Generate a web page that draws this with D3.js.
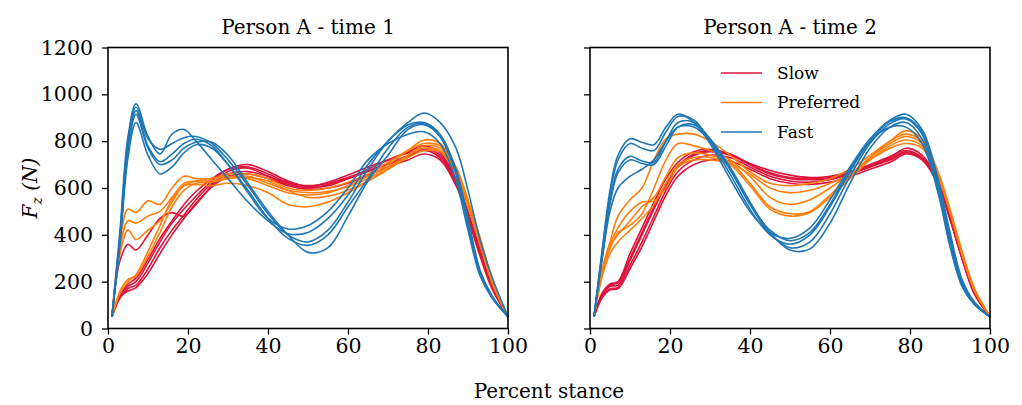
<!DOCTYPE html>
<html>
<head>
<meta charset="utf-8">
<script src="https://d3js.org/d3.v7.min.js"></script>
<style>
  body { margin: 0; background: #fff; }
</style>
</head>
<body>
<script>
// percent stance where each trial was sampled
const stance = [1, 3, 5, 7, 10, 13, 16, 19, 22, 26, 30, 35, 40, 45, 50, 55, 60, 65, 70, 75, 79, 83, 87, 90, 93, 96, 100];
const xTicks = [0, 20, 40, 60, 80, 100];
const yTicks = [0, 200, 400, 600, 800, 1000, 1200];
const speeds = ["Slow", "Preferred", "Fast"];
const speedColors = ["#dc143c", "#ff7f0e", "#1f77b4"];
const panelTitles = ["Person A - time 1", "Person A - time 2"];

// Fz (N), person A, time 1
const time1Slow = [
  [50,290,360,335,400,470,495,480,530,610,670,685,650,615,605,625,655,690,720,750,765,730,620,490,330,180,50],
  [50,140,180,200,280,370,450,510,565,630,680,700,670,630,605,610,640,680,720,755,780,750,640,500,340,190,50],
  [50,130,170,185,255,345,420,485,550,620,660,670,650,620,600,615,640,670,700,735,760,730,620,480,320,180,50],
  [50,135,160,175,235,320,400,470,535,605,650,660,640,610,595,600,620,655,690,720,745,720,610,470,310,170,50],
  [50,145,190,215,295,385,460,530,585,640,680,690,660,625,610,620,645,675,705,740,770,740,630,490,330,185,50]
];
const time1Preferred = [
  [50,370,510,495,545,530,600,650,640,640,650,640,610,580,570,580,610,650,700,760,805,790,690,550,390,215,50],
  [50,340,460,450,480,500,560,620,630,630,645,650,620,590,580,585,605,640,690,740,780,770,670,530,370,200,50],
  [50,320,420,380,420,460,540,610,615,610,620,610,580,530,520,540,580,630,680,740,770,760,660,520,360,195,50],
  [50,150,200,230,330,440,550,610,630,640,660,660,640,600,590,600,625,660,710,760,790,780,680,540,380,210,50],
  [50,160,210,225,310,410,520,590,620,625,640,645,630,590,560,565,590,630,680,730,760,755,660,520,360,200,50]
];
const time1Fast = [
  [50,420,820,960,820,745,830,850,800,720,640,540,460,405,410,470,570,700,800,870,880,830,680,470,250,140,50],
  [50,400,800,945,810,765,790,815,820,790,720,610,490,400,370,420,540,680,800,880,920,880,770,590,380,220,50],
  [50,390,780,930,780,712,745,790,808,780,700,590,470,385,355,400,520,640,770,860,875,820,660,440,240,135,50],
  [50,370,760,915,770,700,720,770,795,795,740,620,500,400,325,345,480,630,740,850,870,820,670,450,240,135,50],
  [50,360,730,880,740,660,690,750,785,770,700,580,470,425,440,500,600,720,790,830,840,790,630,420,225,130,50]
];

// Fz (N), person A, time 2
const time2Slow = [
  [50,150,190,200,320,430,540,640,710,755,765,745,705,675,655,645,650,670,700,735,760,730,620,470,300,155,50],
  [50,140,180,185,290,400,510,610,690,740,755,740,700,665,645,640,645,665,695,730,770,740,630,480,310,160,50],
  [50,135,170,175,270,370,480,590,670,720,740,730,690,650,630,625,635,660,690,720,750,725,620,470,300,155,50],
  [50,130,165,170,255,350,460,570,650,700,720,715,680,640,620,615,625,650,680,710,745,720,615,465,300,150,50],
  [50,145,185,195,300,410,520,620,695,745,760,745,700,660,640,635,640,660,690,725,755,730,625,475,305,160,50]
];
const time2Preferred = [
  [50,250,370,480,550,600,720,810,830,830,800,740,670,620,610,620,640,680,740,800,830,800,660,500,320,170,50],
  [50,230,340,410,440,490,600,720,790,780,760,720,650,560,530,550,600,660,730,790,820,790,660,500,320,170,50],
  [50,240,350,400,460,520,560,650,730,750,740,710,620,520,490,500,570,650,730,800,845,810,670,510,330,175,50],
  [50,220,320,370,420,470,530,620,700,730,730,700,610,510,480,495,560,640,720,780,805,780,650,495,315,165,50],
  [50,235,360,430,500,540,545,600,690,720,720,705,660,600,580,590,620,660,720,770,790,770,650,500,320,170,50]
];
const time2Fast = [
  [50,330,590,740,810,795,785,860,915,880,790,640,500,410,385,430,550,690,810,890,915,850,640,410,210,115,50],
  [50,320,570,720,790,770,760,840,905,890,800,660,510,400,360,400,520,670,800,885,900,840,620,390,200,110,50],
  [50,310,540,680,735,715,710,800,880,880,810,680,530,405,345,370,490,650,790,875,895,830,610,380,195,108,50],
  [50,300,530,665,720,705,700,780,860,870,810,690,540,410,335,340,450,620,770,860,880,810,590,360,185,105,50],
  [50,290,500,600,650,680,720,800,860,860,800,680,530,420,375,410,530,680,800,860,860,790,580,350,180,105,50]
];

const width = 1022, height = 405;
const font = "'DejaVu Serif', serif";
const plotTop = 47.5, plotBottom = 328.5, panelWidth = 400;

const panels = [
  { left: 108, title: panelTitles[0], groups: [time1Slow, time1Preferred, time1Fast], yLabels: true },
  { left: 590, title: panelTitles[1], groups: [time2Slow, time2Preferred, time2Fast], yLabels: false }
];

const svg = d3.select("body").append("svg")
  .attr("width", width)
  .attr("height", height)
  .style("font-family", font);

const y = d3.scaleLinear().domain([0, 1200]).range([plotBottom, plotTop]);

panels.forEach(p => {
  const x = d3.scaleLinear().domain([0, 100]).range([p.left, p.left + panelWidth]);
  const g = svg.append("g");

  const line = d3.line()
    .x((d, i) => x(stance[i]))
    .y(d => y(d))
    .curve(d3.curveCatmullRom.alpha(0.5));

  //trials, slow first so fast ends on top
  p.groups.forEach((trials, k) => {
    g.selectAll(null)
      .data(trials)
      .enter().append("path")
      .attr("d", line)
      .attr("fill", "none")
      .attr("stroke", speedColors[k])
      .attr("stroke-width", 1.6);
  });

  //axes
  const xAxis = g.append("g")
    .attr("transform", "translate(0," + plotBottom + ")")
    .call(d3.axisBottom(x).tickValues(xTicks).tickSize(6).tickPadding(4).tickSizeOuter(0));
  const yAxis = g.append("g")
    .attr("transform", "translate(" + p.left + ",0)")
    .call(d3.axisLeft(y).tickValues(yTicks).tickSize(6).tickPadding(9).tickSizeOuter(0)
      .tickFormat(p.yLabels ? d3.format("d") : ""));

  [xAxis, yAxis].forEach(a => {
    a.select(".domain").remove();
    a.attr("font-family", font).attr("font-size", 20.5);
    a.selectAll("line").attr("stroke", "#000").attr("stroke-width", 1.3);
    a.selectAll("text").attr("fill", "#000");
  });

  //spines
  g.append("rect")
    .attr("x", p.left)
    .attr("y", plotTop)
    .attr("width", panelWidth)
    .attr("height", plotBottom - plotTop)
    .attr("fill", "none")
    .attr("stroke", "#000")
    .attr("stroke-width", 1.6);

  g.append("text")
    .attr("x", p.left + panelWidth / 2)
    .attr("y", 34)
    .attr("text-anchor", "middle")
    .attr("font-size", 20)
    .text(p.title);
});

//legend in the second panel
const legend = svg.append("g").attr("transform", "translate(721,73)");
speeds.forEach((s, i) => {
  const row = legend.append("g").attr("transform", "translate(0," + (i * 29.5) + ")");
  row.append("line")
    .attr("x1", 0).attr("x2", 41)
    .attr("stroke", speedColors[i])
    .attr("stroke-width", 1.6);
  row.append("text")
    .attr("x", 56)
    .attr("dy", "0.35em")
    .attr("font-size", 17)
    .text(s);
});

//axis labels
svg.append("text")
  .attr("x", 549)
  .attr("y", 398)
  .attr("text-anchor", "middle")
  .attr("font-size", 20)
  .text("Percent stance");

const ylab = svg.append("text")
  .attr("transform", "translate(37,188) rotate(-90)")
  .attr("text-anchor", "middle")
  .attr("font-size", 20);
ylab.append("tspan").attr("font-style", "italic").text("F");
ylab.append("tspan").attr("font-style", "italic").attr("font-size", 14).attr("dy", 5).text("z");
ylab.append("tspan").attr("font-style", "italic").attr("dy", -5).text(" (N)");
</script>
</body>
</html>
